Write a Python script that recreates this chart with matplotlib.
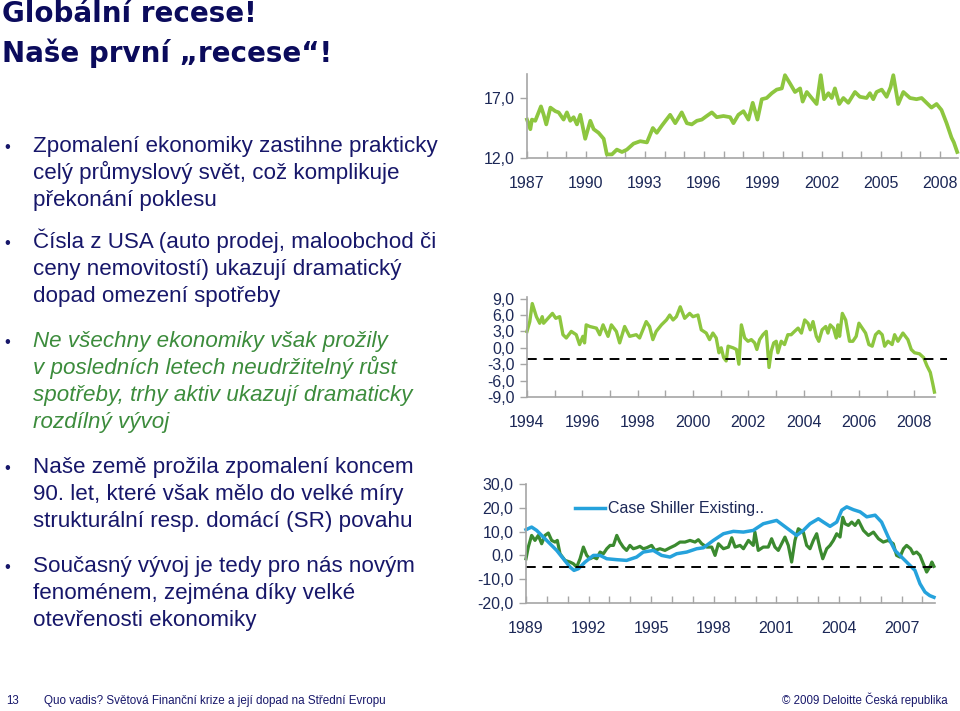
import numpy as np
import matplotlib
matplotlib.use("Agg")
import matplotlib.pyplot as plt
from matplotlib.ticker import FuncFormatter

plt.rcParams['font.family'] = ['Liberation Sans', 'DejaVu Sans']

# --- chart 1 (top) ---
top_years = [1987.00, 1987.17, 1987.25, 1987.42, 1987.59, 1987.71, 1987.85, 1987.98, 1988.19, 1988.44,
             1988.61, 1988.86, 1989.03, 1989.20, 1989.37, 1989.54, 1989.71, 1989.96, 1990.22, 1990.39,
             1990.64, 1990.90, 1991.06, 1991.32, 1991.57, 1991.83, 1992.08, 1992.42, 1992.76, 1993.10,
             1993.40, 1993.60, 1993.86, 1994.28, 1994.54, 1994.87, 1995.13, 1995.38, 1995.64, 1995.89,
             1996.14, 1996.40, 1996.65, 1996.99, 1997.33, 1997.50, 1997.75, 1998.01, 1998.26, 1998.48,
             1998.72, 1998.94, 1999.19, 1999.45, 1999.70, 1999.96, 2000.12, 2000.38, 2000.63, 2000.89,
             2001.02, 2001.23, 2001.48, 2001.73, 2001.94, 2002.11, 2002.33, 2002.50, 2002.66, 2002.88,
             2003.09, 2003.34, 2003.68, 2003.93, 2004.27, 2004.44, 2004.61, 2004.78, 2005.04, 2005.29,
             2005.49, 2005.63, 2005.88, 2006.14, 2006.48, 2006.81, 2007.07, 2007.32, 2007.57, 2007.83,
             2008.08, 2008.34, 2008.59, 2008.71, 2008.88]
top_values = [15.2, 14.4, 15.2, 15.1, 15.8, 16.3, 15.6, 14.8, 16.2, 15.9,
              15.8, 15.2, 15.8, 15.1, 15.4, 14.8, 15.6, 13.6, 15.1, 14.4,
              14.1, 13.6, 12.3, 12.3, 12.7, 12.5, 12.7, 13.2, 13.4, 13.3,
              14.5, 14.1, 14.7, 15.6, 14.9, 15.8, 14.9, 14.8, 15.1, 15.2,
              15.5, 15.8, 15.4, 15.5, 15.4, 14.9, 15.6, 15.9, 15.2, 16.6,
              15.2, 16.9, 17.0, 17.4, 17.7, 17.8, 18.9, 18.2, 17.5, 17.8,
              16.7, 17.5, 17.0, 16.5, 18.9, 16.9, 17.4, 17.0, 17.8, 16.5,
              17.0, 16.6, 17.5, 17.1, 17.0, 17.4, 16.9, 17.5, 17.7, 17.1,
              17.9, 18.9, 16.5, 17.5, 17.0, 16.9, 17.0, 16.6, 16.2, 16.5,
              16.0, 14.9, 13.7, 13.3, 12.5]

# --- chart 2 (middle) ---
mid_years = [1994.00, 1994.10, 1994.19, 1994.34, 1994.46, 1994.55, 1994.60, 1994.76, 1994.92, 1995.04,
             1995.18, 1995.30, 1995.42, 1995.60, 1995.78, 1995.90, 1996.02, 1996.08, 1996.14, 1996.27,
             1996.51, 1996.63, 1996.75, 1996.93, 1997.05, 1997.23, 1997.35, 1997.53, 1997.71, 1997.95,
             1998.07, 1998.31, 1998.43, 1998.55, 1998.67, 1998.86, 1999.04, 1999.16, 1999.28, 1999.40,
             1999.54, 1999.70, 1999.88, 2000.00, 2000.18, 2000.30, 2000.48, 2000.60, 2000.72, 2000.84,
             2000.94, 2001.02, 2001.11, 2001.20, 2001.27, 2001.45, 2001.57, 2001.66, 2001.75, 2001.87,
             2001.99, 2002.11, 2002.23, 2002.31, 2002.41, 2002.53, 2002.65, 2002.75, 2002.83, 2002.92,
             2003.01, 2003.07, 2003.19, 2003.31, 2003.43, 2003.55, 2003.67, 2003.80, 2003.92, 2004.04,
             2004.16, 2004.24, 2004.34, 2004.46, 2004.55, 2004.67, 2004.80, 2004.88, 2004.96, 2005.08,
             2005.18, 2005.24, 2005.30, 2005.40, 2005.52, 2005.66, 2005.78, 2005.90, 2006.00, 2006.12,
             2006.24, 2006.36, 2006.48, 2006.60, 2006.72, 2006.84, 2006.93, 2007.05, 2007.20, 2007.29,
             2007.41, 2007.59, 2007.77, 2007.89, 2008.01, 2008.19, 2008.34, 2008.46, 2008.58, 2008.67,
             2008.73]
mid_values = [3.0, 4.8, 8.1, 5.7, 4.5, 5.7, 4.5, 5.4, 6.3, 5.4,
              5.7, 2.4, 1.8, 3.0, 2.4, 0.6, 2.1, 0.9, 4.2, 3.9,
              3.6, 2.4, 4.2, 2.1, 4.2, 3.0, 0.9, 3.9, 2.1, 2.4,
              1.8, 4.8, 3.9, 1.5, 3.0, 4.2, 5.1, 6.0, 5.1, 5.7,
              7.5, 5.4, 6.3, 5.7, 6.0, 3.3, 2.7, 1.5, 2.7, 1.8,
              -0.9, 0.0, -1.8, -2.4, 0.3, 0.0, -0.3, -3.0, 4.2, 1.8,
              1.2, 1.5, 0.9, -0.3, 1.5, 2.4, 3.0, -3.6, -0.6, 0.9,
              1.2, -0.9, 1.2, 0.6, 2.4, 2.4, 3.0, 3.6, 2.7, 5.1,
              4.5, 3.3, 4.8, 2.1, 1.2, 3.3, 3.9, 2.7, 4.2, 3.6,
              1.8, 4.2, 2.1, 6.3, 5.1, 1.2, 1.2, 2.1, 4.5, 3.6,
              2.7, 0.6, 0.3, 2.4, 3.0, 2.4, 0.3, 1.2, 0.6, 2.4,
              1.2, 2.7, 1.5, -0.3, -0.9, -1.1, -1.8, -3.3, -4.5, -6.6,
              -8.1]
mid_threshold = -2.0

# --- chart 3 (bottom) ---
cs_years = [1989.00, 1989.27, 1989.51, 1989.99, 1990.47, 1990.79, 1991.11, 1991.30, 1991.51, 1991.83,
            1992.23, 1992.55, 1992.87, 1993.35, 1993.82, 1994.30, 1994.62, 1995.10, 1995.50, 1995.90,
            1996.22, 1996.70, 1997.18, 1997.50, 1997.98, 1998.46, 1998.94, 1999.42, 1999.89, 2000.37,
            2000.69, 2001.01, 2001.33, 2001.65, 2001.97, 2002.29, 2002.61, 2003.01, 2003.25, 2003.57,
            2003.89, 2004.13, 2004.37, 2004.69, 2005.01, 2005.33, 2005.73, 2006.04, 2006.36, 2006.68,
            2007.00, 2007.32, 2007.64, 2007.88, 2008.12, 2008.35, 2008.55]
cs_values = [10.8, 11.9, 10.5, 6.3, 2.1, -1.4, -4.9, -6.3, -5.6, -2.8,
             0.0, 0.0, -1.4, -1.8, -2.1, -0.7, 1.4, 2.1, 0.0, -0.7,
             0.7, 1.4, 2.8, 3.2, 6.3, 9.1, 10.1, 9.8, 10.5, 13.3,
             14.0, 14.7, 12.6, 10.5, 8.4, 10.5, 13.3, 15.4, 14.0, 12.2,
             14.0, 19.0, 20.4, 19.2, 18.3, 16.2, 16.9, 14.0, 7.7, 2.1,
             -0.7, -3.5, -6.3, -11.9, -15.4, -16.9, -17.6]

gr_years = [1989.00, 1989.11, 1989.27, 1989.43, 1989.59, 1989.75, 1989.91, 1990.07, 1990.23, 1990.39,
            1990.50, 1990.63, 1990.87, 1991.11, 1991.27, 1991.43, 1991.59, 1991.75, 1991.91, 1992.07,
            1992.23, 1992.39, 1992.55, 1992.71, 1992.87, 1993.03, 1993.19, 1993.35, 1993.50, 1993.66,
            1993.82, 1993.98, 1994.14, 1994.30, 1994.46, 1994.62, 1994.78, 1995.02, 1995.18, 1995.42,
            1995.66, 1995.90, 1996.14, 1996.38, 1996.62, 1996.86, 1997.10, 1997.26, 1997.42, 1997.66,
            1997.90, 1998.06, 1998.22, 1998.46, 1998.70, 1998.86, 1999.02, 1999.26, 1999.42, 1999.66,
            1999.89, 1999.97, 2000.13, 2000.37, 2000.61, 2000.77, 2000.93, 2001.09, 2001.41, 2001.57,
            2001.73, 2001.89, 2002.05, 2002.29, 2002.45, 2002.61, 2002.77, 2002.93, 2003.09, 2003.22,
            2003.41, 2003.57, 2003.73, 2003.89, 2004.05, 2004.18, 2004.29, 2004.45, 2004.61, 2004.77,
            2004.93, 2005.17, 2005.41, 2005.65, 2005.89, 2006.12, 2006.36, 2006.60, 2006.76, 2006.92,
            2007.09, 2007.24, 2007.43, 2007.56, 2007.72, 2007.88, 2008.04, 2008.20, 2008.39, 2008.45,
            2008.55]
gr_values = [-1.4, 3.5, 8.4, 6.3, 8.4, 4.9, 8.4, 9.4, 6.3, 5.6,
             6.3, 0.7, -2.1, -2.8, -3.5, -4.9, -1.4, 3.5, 0.0, -1.4,
             -0.7, -1.4, 1.4, 0.7, 2.8, 4.2, 4.2, 8.4, 5.6, 3.5,
             2.1, 4.2, 2.8, 3.2, 3.8, 2.8, 3.2, 4.2, 2.1, 2.8,
             2.1, 3.2, 4.2, 5.6, 5.6, 6.3, 5.6, 6.6, 4.9, 3.5,
             3.5, 0.0, 4.9, 2.8, 3.5, 7.4, 3.5, 4.2, 2.8, 6.3,
             4.2, 9.8, 2.1, 3.5, 3.5, 7.0, 3.5, 2.1, 7.7, 4.2,
             -2.8, 6.3, 11.2, 9.8, 4.2, 2.8, 6.3, 9.1, 2.8, -1.4,
             2.8, 4.2, 6.3, 9.1, 7.7, 16.0, 13.3, 12.6, 14.0, 12.6,
             14.7, 10.5, 8.4, 9.8, 7.0, 5.6, 6.3, 4.9, 0.0, -0.7,
             2.8, 4.2, 2.8, 0.7, 1.4, 0.0, -3.5, -7.0, -4.2, -2.8,
             -4.6]
bot_threshold = -5.0
legend_label = "Case Shiller Existing.."

# --- slide text ---
title_lines = ["Globální recese!", "Naše první „recese“!"]
bullets = [
    (["Zpomalení ekonomiky zastihne prakticky", "celý průmyslový svět, což komplikuje",
      "překonání poklesu"], False),
    (["Čísla z USA (auto prodej, maloobchod či", "ceny nemovitostí) ukazují dramatický",
      "dopad omezení spotřeby"], False),
    (["Ne všechny ekonomiky však prožily", "v posledních letech neudržitelný růst",
      "spotřeby, trhy aktiv ukazují dramaticky", "rozdílný vývoj"], True),
    (["Naše země prožila zpomalení koncem", "90. let, které však mělo do velké míry",
      "strukturální resp. domácí (SR) povahu"], False),
    (["Současný vývoj je tedy pro nás novým", "fenoménem, zejména díky velké",
      "otevřenosti ekonomiky"], False),
]
bullet_baselines = [152, 248, 347, 473, 572]
footer_page = "13"
footer_left = "Quo vadis? Světová Finanční krize a její dopad na Střední Evropu"
footer_right = "© 2009 Deloitte Česká republika"

NAVY = "#17176a"
TITLE = "#0b0b5c"
TICKC = "#1c2857"
GREEN_TXT = "#3c8c3c"
LIGHT_GREEN = "#8dc63f"
DARK_GREEN = "#3b8a2f"
BLUE = "#25a2dc"
GRAY = "#a6a6a6"

W, H = 960, 711
fig = plt.figure(figsize=(W / 100, H / 100), dpi=100)


def px_axes(left, top, right, bottom):
    return fig.add_axes([left / W, 1 - bottom / H, (right - left) / W, (bottom - top) / H])


comma_fmt = FuncFormatter(lambda v, pos: f"{v:.1f}".replace(".", ","))


def style(ax, first, last, step, xmax, yticks, ylim):
    ax.set_xlim(first, xmax)
    ax.set_ylim(*ylim)
    years = list(range(first, last + 1))
    ax.set_xticks(years)
    ax.set_xticklabels([str(y) if (y - first) % step == 0 else "" for y in years])
    ax.set_yticks(yticks)
    ax.yaxis.set_major_formatter(comma_fmt)
    for s in ["top", "right"]:
        ax.spines[s].set_visible(False)
    for s in ["left", "bottom"]:
        ax.spines[s].set_color(GRAY)
        ax.spines[s].set_linewidth(1.2)
    ax.tick_params(axis="x", direction="in", length=5, width=1, color=GRAY, pad=13,
                   labelsize=11.5, labelcolor=TICKC)
    ax.tick_params(axis="y", direction="out", length=5, width=1, color=GRAY, pad=4,
                   labelsize=11.5, labelcolor=TICKC)
    ax.patch.set_alpha(0)


# top chart
ax1 = px_axes(527, 74, 958, 158)
ax1.plot(top_years, top_values, color=LIGHT_GREEN, lw=2.7, clip_on=False, solid_joinstyle="round")
style(ax1, 1987, 2008, 3, 2008.92, [12, 17], (12, 19))

# middle chart
ax2 = px_axes(527, 297, 935, 397)
ax2.plot(mid_years, mid_values, color=LIGHT_GREEN, lw=2.4, clip_on=False, solid_joinstyle="round")
ax2.plot([1994, 2009.2], [mid_threshold, mid_threshold], color="black", lw=1.4,
         ls=(0, (5, 3.5)), clip_on=False)
style(ax2, 1994, 2008, 2, 2008.75, np.arange(-9, 10, 3), (-9, 9.3))

# bottom chart
ax3 = px_axes(526, 484, 935, 603)
ax3.plot(gr_years, gr_values, color=DARK_GREEN, lw=2.3, clip_on=False, solid_joinstyle="round")
cs_line, = ax3.plot(cs_years, cs_values, color=BLUE, lw=2.5, clip_on=False, solid_joinstyle="round")
ax3.plot([1989, 2008.6], [bot_threshold, bot_threshold], color="black", lw=1.4,
         ls=(0, (5, 3.5)), clip_on=False)
style(ax3, 1989, 2008, 3, 2008.6, np.arange(-20, 31, 10), (-20, 30))
ax3.legend([cs_line], [legend_label], loc="upper left", bbox_to_anchor=(0.12, 0.855),
           frameon=False, fontsize=11.5, handlelength=1.9, handletextpad=0.15,
           borderpad=0, borderaxespad=0, labelcolor=TICKC)

# slide text
title_font = ['DejaVu Sans']
fig.text(2 / W, 1 - 22 / H, title_lines[0], fontsize=20, fontweight="bold", color=TITLE,
         va="baseline", family=title_font)
fig.text(2 / W, 1 - 62 / H, title_lines[1], fontsize=20, fontweight="bold", color=TITLE,
         va="baseline", family=title_font)

for (lines, italic), base in zip(bullets, bullet_baselines):
    color = GREEN_TXT if italic else NAVY
    fig.text(4 / W, 1 - base / H, "•", fontsize=12, color=NAVY, va="baseline")
    for i, line in enumerate(lines):
        fig.text(33 / W, 1 - (base + 27 * i) / H, line, fontsize=16.1, color=color,
                 style="italic" if italic else "normal", va="baseline")

foot_font = ['Liberation Sans Narrow', 'Liberation Sans', 'DejaVu Sans']
fig.text(6 / W, 1 - 704 / H, footer_page, fontsize=8.3, color=NAVY, va="baseline", family=foot_font)
fig.text(44 / W, 1 - 704 / H, footer_left, fontsize=8.4, color=NAVY, va="baseline", family=foot_font)
fig.text(948 / W, 1 - 704 / H, footer_right, fontsize=8.3, color=NAVY, va="baseline", ha="right",
         family=foot_font)

fig.savefig("out.png", dpi=100)
